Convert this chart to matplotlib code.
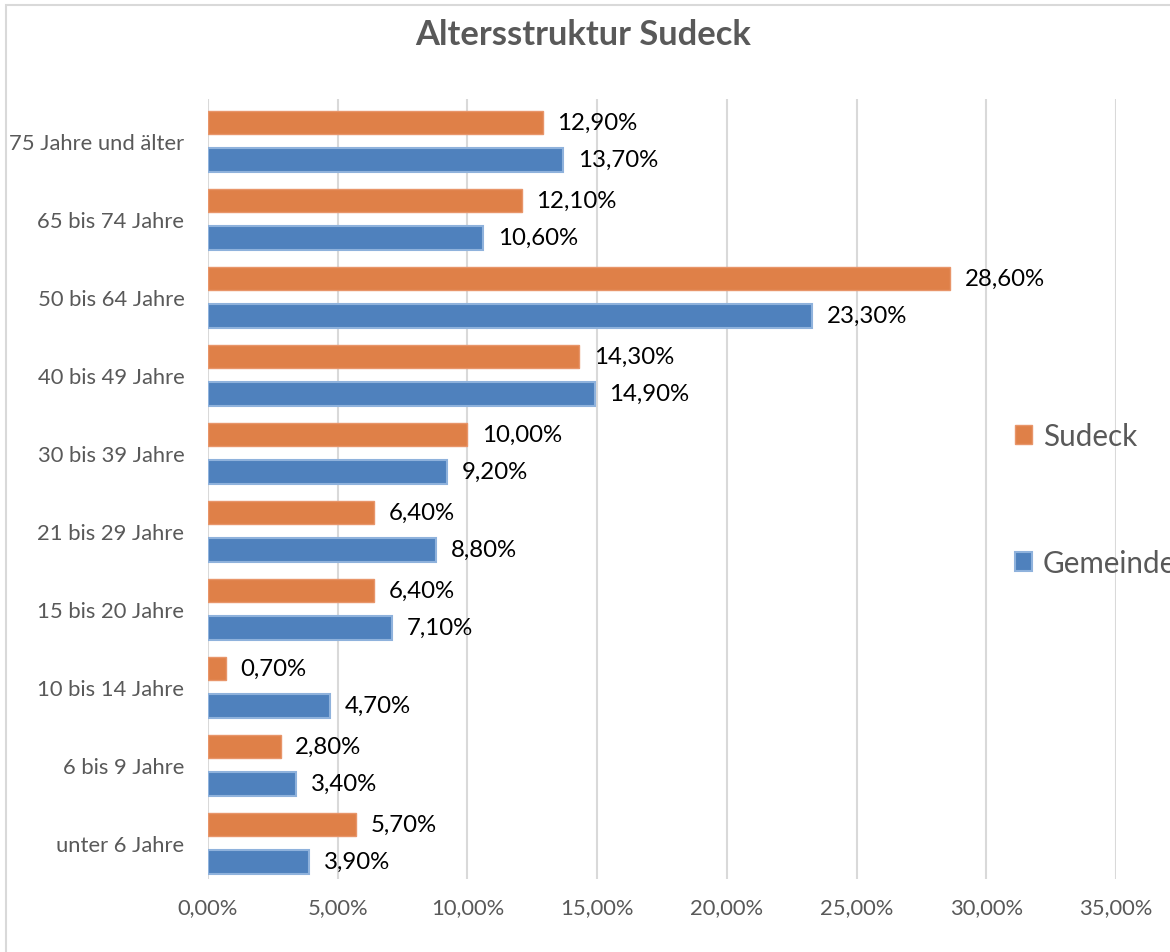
import matplotlib.pyplot as plt
from matplotlib.patches import Rectangle
import numpy as np

plt.rcParams['font.family'] = ['Lato', 'DejaVu Sans']

categories = ["unter 6 Jahre", "6 bis 9 Jahre", "10 bis 14 Jahre", "15 bis 20 Jahre",
              "21 bis 29 Jahre", "30 bis 39 Jahre", "40 bis 49 Jahre", "50 bis 64 Jahre",
              "65 bis 74 Jahre", "75 Jahre und älter"]
sudeck = [5.7, 2.8, 0.7, 6.4, 6.4, 10.0, 14.3, 28.6, 12.1, 12.9]
gemeinde = [3.9, 3.4, 4.7, 7.1, 8.8, 9.2, 14.9, 23.3, 10.6, 13.7]
xticks = [0, 5, 10, 15, 20, 25, 30, 35]

orange = "#DF8048"
blue = "#4F81BD"
gray = "#595959"

fig = plt.figure(figsize=(11.7, 9.53), dpi=100)
ax = fig.add_axes([208/1170, 1-880/953, (1116-208)/1170, 780/953])

y = np.arange(len(categories))
off = 0.24
h = 0.30
b1 = ax.barh(y + off, sudeck, height=h, color=orange, edgecolor="#E8956A", linewidth=1, label="Sudeck", zorder=3)
b2 = ax.barh(y - off, gemeinde, height=h, color=blue, edgecolor="#8FB2DC", linewidth=1.5, label="Gemeinde", zorder=3)

def fmt(v):
    return f"{v:.2f}".replace(".", ",") + "%"

for bars, vals in ((b1, sudeck), (b2, gemeinde)):
    for bar, v in zip(bars, vals):
        ax.annotate(fmt(v), (v, bar.get_y() + bar.get_height()/2), xytext=(10.5, 0),
                    textcoords="offset points", va="center", ha="left", fontsize=17.3, color="black")

ax.set_xlim(0, 35)
ax.set_ylim(-0.46, 9.54)
ax.set_xticks(xticks)
ax.set_xticklabels([f"{t},00%" for t in xticks])
ax.set_yticks(y)
ax.set_yticklabels(categories)
ax.tick_params(axis="both", length=0, colors=gray, labelsize=15.8)
ax.tick_params(axis="y", pad=17)
ax.tick_params(axis="x", pad=13)
ax.grid(axis="x", color="#D9D9D9", linewidth=1.5, zorder=0)
for s in ax.spines.values():
    s.set_visible(False)

fig.text(583/1170, 1-35/953, "Altersstruktur Sudeck", fontsize=24.8, fontweight="bold",
         color=gray, ha="center", va="center")

fig.legend(handles=[b1, b2], loc="upper left", bbox_to_anchor=(988/1170, 1-396/953),
           frameon=False, fontsize=21.3, labelcolor=gray, labelspacing=3.35,
           handlelength=0.6, handleheight=0.6, handletextpad=0.35)

fig.patches.append(Rectangle((5.5/1170, -0.1), 1.2, 1.1 - 5.5/953, transform=fig.transFigure,
                             fill=False, edgecolor="#D9D9D9", linewidth=1.5))

fig.savefig("out.png", dpi=100)
